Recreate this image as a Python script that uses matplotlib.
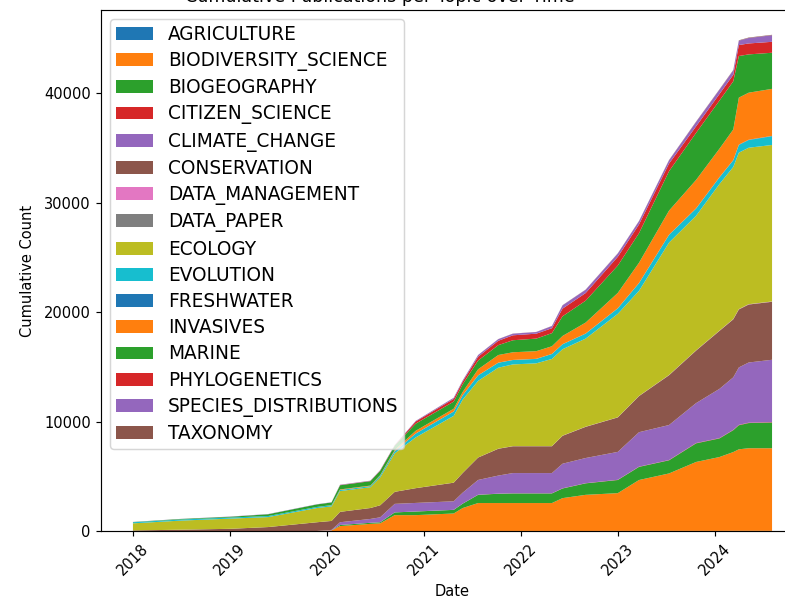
import matplotlib
matplotlib.use("Agg")
import matplotlib.pyplot as plt
import pandas as pd

# dates where the cumulative counts were read
dates = pd.to_datetime([
    "2018-01-01", "2018-07-01", "2019-01-01", "2019-05-25", "2019-11-25",
    "2020-01-19", "2020-02-20", "2020-06-13", "2020-07-20", "2020-09-13",
    "2020-12-01", "2021-04-23", "2021-05-27", "2021-07-24", "2021-10-08",
    "2021-12-02", "2022-02-28", "2022-04-28", "2022-06-07", "2022-09-02",
    "2023-01-01", "2023-03-22", "2023-07-13", "2023-10-23", "2024-01-19",
    "2024-03-11", "2024-04-01", "2024-05-08", "2024-08-04",
])

topics = ["AGRICULTURE", "BIODIVERSITY_SCIENCE", "BIOGEOGRAPHY", "CITIZEN_SCIENCE",
          "CLIMATE_CHANGE", "CONSERVATION", "DATA_MANAGEMENT", "DATA_PAPER",
          "ECOLOGY", "EVOLUTION", "FRESHWATER", "INVASIVES", "MARINE",
          "PHYLOGENETICS", "SPECIES_DISTRIBUTIONS", "TAXONOMY"]

agriculture = [0, 0, 0, 0, 0, 0, 0, 0, 0, 0, 0, 0, 0, 5, 5, 5, 5, 5, 5, 5,
               10, 10, 10, 10, 10, 15, 15, 15, 15]
biodiversity_science = [0, 0, 0, 0, 0, 50, 450, 650, 700, 1450, 1450, 1600, 2100, 2550, 2550,
                        2550, 2550, 2550, 3000, 3300, 3450, 4650, 5250, 6300, 6750, 7200,
                        7450, 7550, 7550]
biogeography = [0, 0, 0, 0, 0, 10, 100, 100, 100, 250, 330, 330, 400, 750, 850, 880, 880, 880,
                880, 1050, 1200, 1200, 1200, 1700, 1700, 2000, 2200, 2300, 2350]
citizen_science = [0, 0, 0, 0, 0, 0, 0, 0, 0, 0, 5, 5, 5, 10, 10, 10, 10, 10, 15, 15,
                   20, 20, 25, 30, 30, 30, 35, 35, 35]
climate_change = [0, 0, 0, 0, 0, 40, 250, 350, 450, 780, 780, 780, 1000, 1350, 1650, 1850, 1850,
                  1850, 2250, 2300, 2550, 3150, 3200, 3650, 4500, 4800, 5250, 5500, 5700]
conservation = [50, 120, 200, 360, 800, 820, 950, 1000, 1100, 1100, 1350, 1700, 1800, 2050, 2450,
                2450, 2450, 2450, 2550, 2850, 3150, 3300, 4550, 4800, 5300, 5300, 5300, 5300, 5300]
data_management = [0, 0, 0, 0, 0, 0, 0, 0, 0, 0, 0, 5, 5, 5, 5, 5, 5, 5, 10, 10,
                   10, 10, 15, 15, 15, 20, 20, 20, 20]
data_paper = [0, 0, 0, 0, 0, 0, 0, 0, 0, 0, 0, 0, 0, 0, 5, 5, 5, 5, 5, 5,
              5, 10, 10, 10, 10, 10, 10, 10, 10]
ecology = [650, 830, 930, 910, 1300, 1330, 1900, 1900, 2550, 3520, 4640, 6100, 6700, 7000, 7400,
           7470, 7570, 7970, 7900, 8050, 9450, 9600, 12100, 12300, 13400, 13900, 14300, 14300, 14300]
evolution = [100, 100, 100, 100, 100, 100, 100, 100, 150, 200, 350, 400, 400, 500, 450, 400, 400,
             450, 450, 450, 500, 700, 700, 650, 600, 600, 700, 700, 800]
freshwater = [0, 0, 0, 0, 0, 0, 0, 0, 0, 0, 5, 5, 5, 10, 10, 10, 10, 10, 10, 15,
              15, 20, 20, 25, 25, 25, 30, 30, 30]
invasives = [0, 0, 0, 0, 0, 20, 50, 50, 50, 100, 250, 250, 300, 550, 700, 700, 700, 700, 750, 1000,
             1400, 1850, 2200, 2600, 2600, 2800, 4300, 4300, 4300]
marine = [20, 50, 70, 160, 230, 240, 380, 400, 400, 400, 650, 650, 700, 800, 900, 1100, 1150, 1200,
          1800, 2000, 2500, 2700, 3600, 4300, 4400, 4400, 3800, 3500, 3300]
phylogenetics = [0, 0, 0, 0, 0, 0, 20, 20, 30, 30, 200, 250, 250, 350, 400, 450, 450, 450, 700, 700,
                 800, 800, 700, 600, 600, 600, 1000, 1000, 1000]
species_distributions = [10, 10, 20, 20, 20, 20, 30, 30, 30, 30, 50, 100, 100, 150, 150, 150, 150,
                         200, 300, 300, 300, 300, 300, 400, 400, 400, 400, 500, 600]
taxonomy = [0, 0, 0, 0, 0, 0, 0, 0, 0, 0, 5, 5, 5, 10, 10, 10, 10, 10, 15, 15,
            20, 20, 25, 30, 30, 35, 40, 40, 40]

series = [agriculture, biodiversity_science, biogeography, citizen_science, climate_change,
          conservation, data_management, data_paper, ecology, evolution, freshwater,
          invasives, marine, phylogenetics, species_distributions, taxonomy]

dpi = 105
fig = plt.figure(figsize=(785 / dpi, 600 / dpi), dpi=dpi)
# axes run past the right edge, like the cropped original
ax = fig.add_axes([101 / 785, 69 / 600, 703 / 785, 521 / 600])

ax.stackplot(dates, *series, labels=topics)
ax.set_xlabel("Date")
ax.set_ylabel("Cumulative Count", labelpad=6)
ax.tick_params(axis="x", labelrotation=45)
ax.legend(loc="upper left", fontsize=12.7, labelspacing=0.39, borderpad=0.3)

# title sits above the visible area, only its lower edge shows
fig.text(380 / 785, 598 / 600, "Cumulative Publications per Topic over Time",
         ha="center", va="baseline", fontsize=12)

fig.savefig("out.png", dpi=dpi)
